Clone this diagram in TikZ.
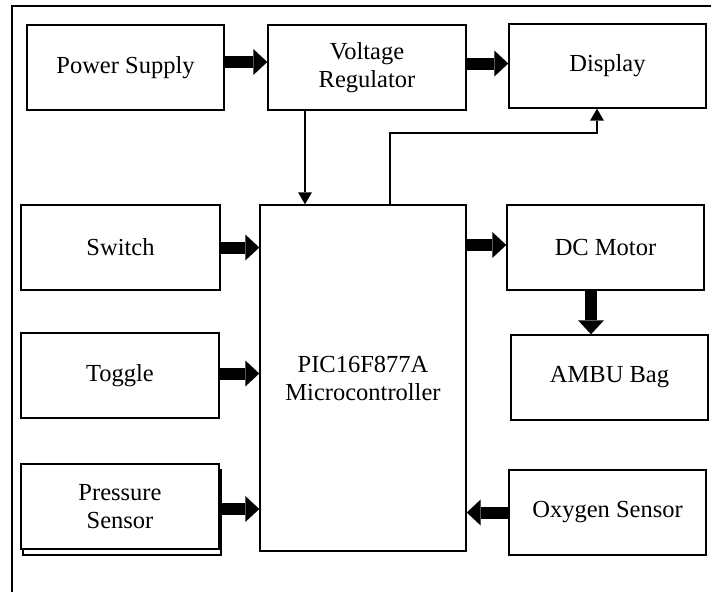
\documentclass[tikz,border=0pt]{standalone}
\usepackage{fontspec}
\setmainfont{Liberation Serif}
\usetikzlibrary{arrows.meta}
\begin{document}
\begin{tikzpicture}[x=1pt,y=-1pt,
  blk/.style={draw,line width=1.4pt,fill=white,inner sep=0pt,align=center,
    font=\fontsize{24.5}{28}\selectfont},
  fatarrow/.style={line width=12pt,-{Triangle[width=26pt,length=14pt,line width=0pt]}},
  thinarrow/.style={line width=2.6pt,-{Triangle[width=14pt,length=12pt,line width=0pt]}}]
\useasboundingbox (0,0) rectangle (711,592);
\draw[line width=1.4pt] (711,6) -- (12,6) -- (12,592);
% boxes
\node[blk,minimum width=197pt,minimum height=85pt] (ps) at (125.5,67.5) {Power Supply};
\node[blk,minimum width=198pt,minimum height=85pt] (vr) at (367,67.5) {Voltage\\Regulator};
\node[blk,minimum width=197pt,minimum height=84pt] (disp) at (607.5,66) {Display};
\node[blk,minimum width=199pt,minimum height=85pt] (sw) at (120.5,247.5) {Switch};
\node[blk,minimum width=206pt,minimum height=346pt] (mc) at (363,378) {PIC16F877A\\Microcontroller};
\node[blk,minimum width=197pt,minimum height=85pt] (dc) at (605.5,247.5) {DC Motor};
\node[blk,minimum width=197pt,minimum height=85pt] (ambu) at (609.5,377.5) {AMBU Bag};
\node[blk,minimum width=198pt,minimum height=85pt] (tog) at (120,375.5) {Toggle};
\node[draw,line width=1.2pt,fill=white,minimum width=198pt,minimum height=85pt,inner sep=0pt] (prs) at (122,512.5) {};
\node[blk,minimum width=198pt,minimum height=85pt] (pr) at (120,506.5) {Pressure\\Sensor};
\node[blk,minimum width=197pt,minimum height=85pt] (oxy) at (607.5,512.5) {Oxygen Sensor};
% helper coordinates
\coordinate (vx) at (305,0);
\coordinate (m1) at (390,0);
\coordinate (bend) at (597,133);
\coordinate (ax) at (591,0);
% thick arrows
\draw[fatarrow] ([yshift=5.5pt]ps.east) -- ([yshift=5.5pt]ps.east -| vr.west);
\draw[fatarrow] ([yshift=4pt]vr.east) -- ([yshift=4pt]vr.east -| disp.west);
\draw[fatarrow] (sw.east) -- (sw.east -| mc.west);
\draw[fatarrow] ([yshift=2pt]tog.east) -- ([yshift=2pt]tog.east -| mc.west);
\draw[fatarrow] ([yshift=-2.5pt]pr.east) -- ([yshift=-2.5pt]pr.east -| mc.west);
\draw[fatarrow] ([yshift=2.5pt]dc.west -| mc.east) -- ([yshift=2.5pt]dc.west);
\draw[fatarrow] (ax |- dc.south) -- (ax |- ambu.north);
\draw[fatarrow] (oxy.west) -- (oxy.west -| mc.east);
% thin arrows
\draw[thinarrow] (vx |- vr.south) -- (vx |- mc.north);
\draw[thinarrow] (m1 |- mc.north) |- (bend) -- (bend |- disp.south);
\end{tikzpicture}
\end{document}
